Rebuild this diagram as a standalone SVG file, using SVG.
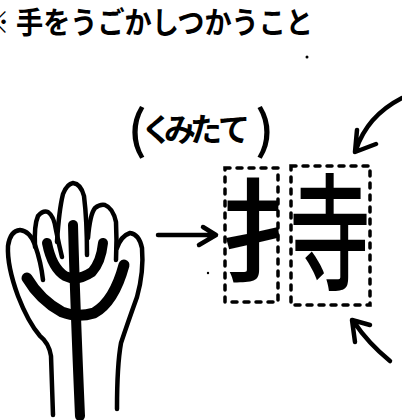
<svg xmlns="http://www.w3.org/2000/svg" width="402" height="420" viewBox="0 0 402 420">
  <style>
    .jp { font-family: "Noto Sans CJK JP", "Noto Sans CJK SC", sans-serif; fill: #000; }
    .title { font-size: 30px; font-weight: 700; }
    .kana { font-size: 32px; font-weight: 700; }
    .paren { font-size: 50px; font-weight: 400; }
    .kanji { font-size: 130px; font-weight: 500; }
    .outline { fill: none; stroke: #000; stroke-width: 4.5; stroke-linecap: round; stroke-linejoin: round; }
    .thick { fill: none; stroke: #000; stroke-linecap: round; stroke-linejoin: round; }
    .box { fill: none; stroke: #000; stroke-width: 3.5; stroke-dasharray: 5 7; stroke-linecap: round; }
    .arrow { fill: none; stroke: #000; stroke-width: 4.5; stroke-linecap: round; stroke-linejoin: round; }
  </style>
  <rect width="402" height="420" fill="#fff"/>

  <!-- heading -->
  <g id="title">
    <text class="jp title" x="-20" y="33" font-size="27">※</text>
    <text class="jp title" x="16" y="33" textLength="297" lengthAdjust="spacingAndGlyphs">手をうごかしつかうこと</text>
  </g>

  <!-- label above the character -->
  <g id="label">
    <text class="jp paren" x="137" y="148" text-anchor="middle" style="stroke:#000;stroke-width:1.5">(</text>
    <text class="jp kana" y="141"><tspan x="141">く</tspan><tspan x="164">み</tspan><tspan x="190">た</tspan><tspan x="218">て</tspan></text>
    <text class="jp paren" x="265" y="148" text-anchor="middle" style="stroke:#000;stroke-width:1.5">)</text>
  </g>

  <!-- hand -->
  <g id="hand">
    <!-- thumb side and wrist -->
    <path class="outline" d="M53,415 L51,356 Q49,343 40,336 Q28,322 18,296 Q7,266 8,246 Q10,231 20,230 Q30,231 35,245 Q41,262 43,280"/>
    <!-- second finger -->
    <path class="outline" d="M35,247 Q34,225 38,216 Q43,210 48,212 Q54,216 56,230 Q59,245 62,257"/>
    <!-- middle finger -->
    <path class="outline" d="M57,242 Q59,210 63,194 Q67,184 73,183 Q81,184 84,196 Q87,220 87,255"/>
    <!-- fourth finger -->
    <path class="outline" d="M88,238 Q90,214 95,208 Q100,204 105,205 Q113,208 116,222 Q117,240 116,260"/>
    <!-- little finger and wrist -->
    <path class="outline" d="M117,248 Q121,236 130,233 Q139,234 142,248 Q144,272 137,297 Q128,322 121,343 Q117,365 117,409"/>
    <!-- palm strokes -->
    <path class="thick" stroke-width="10" d="M73,225 Q75,300 80,416"/>
    <path class="thick" stroke-width="10" d="M47,243 Q52,268 65,276 Q77,282 92,272 Q101,262 103,243"/>
    <path class="thick" stroke-width="11" d="M27,278 Q40,300 62,312 Q77,318 94,313 Q114,302 124,265"/>
  </g>

  <!-- the character, split into its parts -->
  <g id="kanji">
    <rect class="box" x="225" y="168" width="53" height="134"/>
    <rect class="box" x="291" y="166" width="79" height="139"/>
    <text class="jp kanji" transform="translate(218,274) scale(0.93,0.87)">扌</text>
    <text class="jp kanji" transform="translate(330,280) scale(0.62,0.97)" text-anchor="middle">寺</text>
  </g>

  <!-- arrows -->
  <g id="connectors">
    <path class="arrow" d="M158,235 L214,235 M203,227 L216,235 L199,245"/>
    <path class="arrow" d="M402,98 Q367,116 356,150 M357,130 L355,152 L376,144"/>
    <path class="arrow" stroke-width="5" d="M390,361 Q368,343 354,322 M355,342 L352,320 L370,325"/>
  </g>

  <!-- specks -->
  <g id="specks">
    <circle cx="307" cy="57" r="1.5"/>
    <circle cx="208" cy="273" r="1.2"/>
  </g>
</svg>
